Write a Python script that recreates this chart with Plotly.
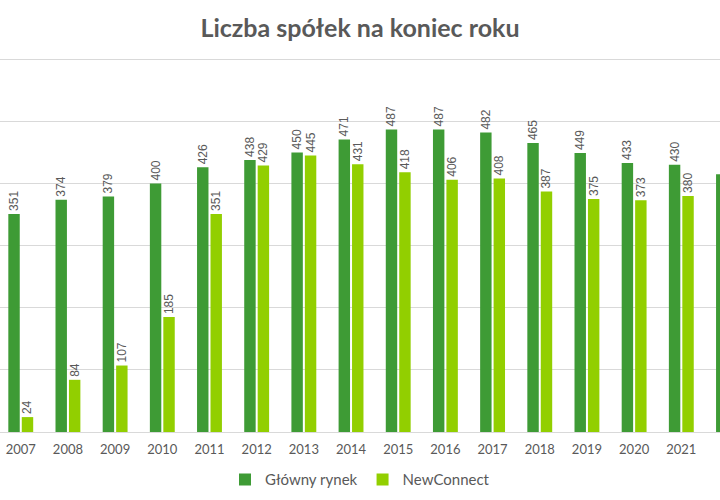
import plotly.graph_objects as go

years = ["2007", "2008", "2009", "2010", "2011", "2012", "2013", "2014",
         "2015", "2016", "2017", "2018", "2019", "2020", "2021", "2022"]
glowny = [351, 374, 379, 400, 426, 438, 450, 471, 487, 487, 482, 465, 449, 433, 430, 415]
newconnect = [24, 84, 107, 185, 351, 429, 445, 431, 418, 406, 408, 387, 375, 373, 380, 375]

dark = "#3e9b35"
light = "#92cf00"
txt = "#595959"

fig = go.Figure()
for name, vals, col in [("Główny rynek", glowny, dark), ("NewConnect", newconnect, light)]:
    fig.add_trace(go.Bar(
        x=years, y=vals, name=name, marker=dict(color=col, line=dict(width=0)),
        text=[str(v) for v in vals], textposition="outside", textangle=-90,
        textfont=dict(family="Liberation Sans, Arial", size=12, color=txt),
        constraintext="none", cliponaxis=False,
    ))

fig.update_layout(
    width=720, height=500,
    paper_bgcolor="white", plot_bgcolor="white",
    margin=dict(l=0, r=0, t=58, b=68),
    barmode="group", bargap=0.43, bargroupgap=0.15,
    title=dict(text="<b>Liczba spółek na koniec roku</b>", x=0.5, xanchor="center",
               y=0.944, yanchor="middle", yref="container",
               font=dict(family="Lato", size=25, color=txt)),
    legend=dict(orientation="h", x=0.5, xanchor="center", y=-0.128, yanchor="middle",
                font=dict(family="Lato", size=15, color=txt), itemwidth=30,
                traceorder="normal"),
    xaxis=dict(type="category", range=[-0.44, 14.82], showgrid=False,
               showline=True, linecolor="#d9d9d9", linewidth=1, ticks="",
               ticklabelstandoff=5,
               tickfont=dict(family="Lato", size=13, color=txt)),
    yaxis=dict(range=[0, 602], tickvals=[0, 100, 200, 300, 400, 500, 600],
               showgrid=True, gridcolor="#d9d9d9",
               gridwidth=1, showticklabels=False, zeroline=False, showline=False),
)

fig.write_html("out.html")
